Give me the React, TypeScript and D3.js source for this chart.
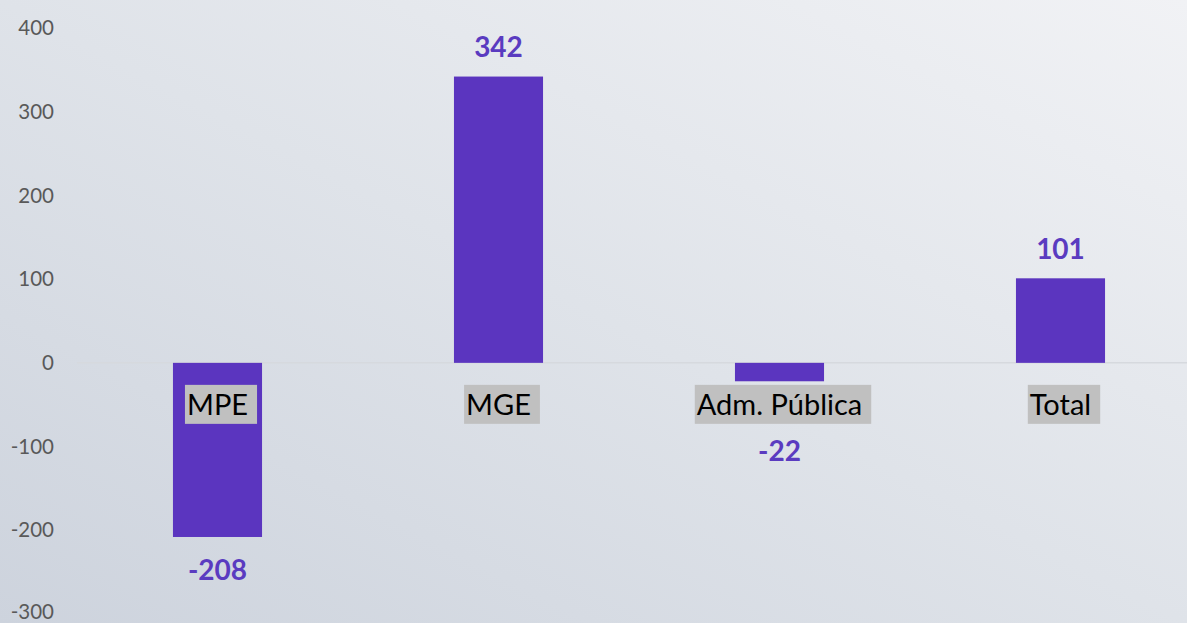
import React from "react";
import * as d3 from "d3";

const categories = ["MPE", "MGE", "Adm. Pública", "Total"];
const values = [-208, 342, -22, 101];
const yTicks = [400, 300, 200, 100, 0, -100, -200, -300];

const W = 1187;
const H = 623;
const BAR = "#5b35bf";

export default function App() {
  const y = d3.scaleLinear().domain([-300, 400]).range([614, 28]);
  const x = d3.scaleBand().domain(categories).range([77, 1201]).paddingInner(0.683).paddingOuter(0.3415);
  const y0 = y(0);
  const catTop = y0 + 22;
  const catH = 39;
  return (
    <div style={{ position: "fixed", left: 0, top: 0, width: W, height: H }}>
      <svg width={W} height={H} style={{ display: "block" }}>
        <defs>
          <linearGradient id="bg" x1="0" y1="1" x2="1" y2="0">
            <stop offset="0" stopColor="#cdd3dd" />
            <stop offset="0.5" stopColor="#dfe3e9" />
            <stop offset="1" stopColor="#f1f2f5" />
          </linearGradient>
        </defs>
        <rect x={0} y={0} width={W} height={H} fill="url(#bg)" />
        {yTicks.map((t) => (
          <text key={t} x={54} y={Math.min(y(t), 612)} dy="0.35em" textAnchor="end" fontFamily="Lato, 'Open Sans', sans-serif" fontSize={20.5} fill="#595959">
            {t}
          </text>
        ))}
        <line x1={77} x2={W} y1={y0} y2={y0} stroke="#d6d9de" strokeWidth={1.5} />
        {categories.map((c, i) => {
          const v = values[i];
          const bx = x(c)!;
          const bw = x.bandwidth();
          const top = y(Math.max(0, v));
          const bot = y(Math.min(0, v));
          const cx = bx + bw / 2;
          let ly: number;
          if (v >= 0) ly = top - 29;
          else ly = Math.max(bot + 33, catTop + catH + 27);
          return (
            <g key={c}>
              <rect x={bx} y={top} width={bw} height={bot - top} fill={BAR} />
              <text x={cx} y={ly} dy="0.35em" textAnchor="middle" fontFamily="Lato, 'Open Sans', sans-serif" fontWeight={700} fontSize={28} fill="#5a3bc0">
                {v}
              </text>
            </g>
          );
        })}
        {categories.map((c) => {
          const cx = x(c)! + x.bandwidth() / 2;
          return <CatLabel key={c} text={c} cx={cx} top={catTop} h={catH} />;
        })}
      </svg>
    </div>
  );
}

function CatLabel({ text, cx, top, h }: { text: string; cx: number; top: number; h: number }) {
  const ref = React.useRef<SVGTextElement>(null);
  const [w, setW] = React.useState(0);
  React.useLayoutEffect(() => {
    if (ref.current) setW(ref.current.getComputedTextLength());
  }, [text]);
  return (
    <g>
      <rect x={cx - w / 2 - 2} y={top} width={w + 11} height={h} fill="#c0c0c0" />
      <text ref={ref} x={cx} y={top + 30} textAnchor="middle" fontFamily="Lato, 'Open Sans', sans-serif" fontSize={29} fill="#000">
        {text}
      </text>
    </g>
  );
}
